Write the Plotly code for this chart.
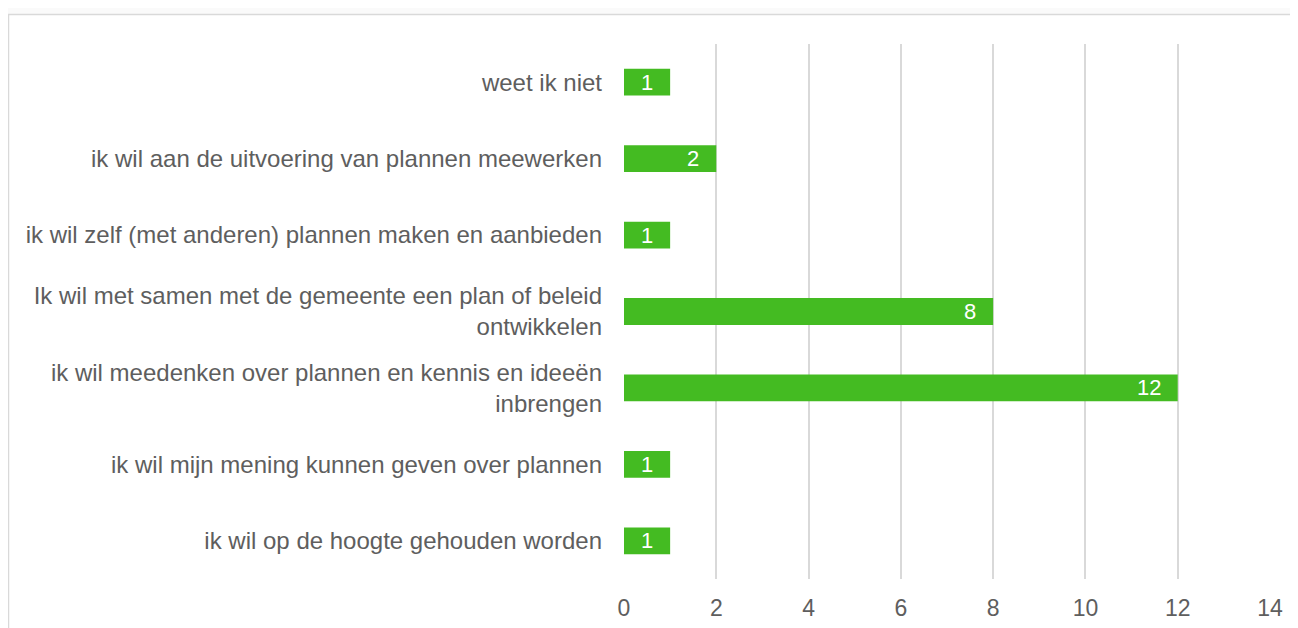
import plotly.graph_objects as go

categories = [
    "ik wil op de hoogte gehouden worden",
    "ik wil mijn mening kunnen geven over plannen",
    "ik wil meedenken over plannen en kennis en ideeën<br>inbrengen",
    "Ik wil met samen met de gemeente een plan of beleid<br>ontwikkelen",
    "ik wil zelf (met anderen) plannen maken en aanbieden",
    "ik wil aan de uitvoering van plannen meewerken",
    "weet ik niet",
]
values = [1, 1, 12, 8, 1, 2, 1]
x_ticks = [0, 2, 4, 6, 8, 10, 12, 14]

OFF = 8  # default body margin of the html page
W, H = 1298 - OFF, 628 - OFF
ml, mr, mt, mb = 624 - OFF, 28, 44 - OFF, 49
pw, ph = W - ml - mr, H - mt - mb

def px(x):
    return (x - OFF - ml) / pw

def py(y):
    return (H - mb - (y - OFF)) / ph

FONT = "Liberation Sans, Arial"
GRAY = "#5E5E5E"

fig = go.Figure(
    go.Bar(
        x=values,
        y=categories,
        orientation="h",
        marker=dict(color="#44BB22", line=dict(width=0)),
        width=0.35,
        hoverinfo="x+y",
    )
)

# value labels, inside end of each bar with Excel-like padding
label_annotations = [
    dict(
        x=v, y=c, xref="x", yref="y", text=str(v), showarrow=False,
        xanchor="right", yanchor="middle", xshift=-15,
        font=dict(color="white", size=22, family=FONT),
    )
    for c, v in zip(categories, values)
]

fig.update_layout(
    width=W,
    height=H,
    margin=dict(l=ml, r=mr, t=mt, b=mb),
    paper_bgcolor="#FAFAFA",
    plot_bgcolor="white",
    showlegend=False,
    font=dict(family=FONT, color=GRAY),
    shapes=[
        dict(
            type="rect", xref="paper", yref="paper",
            x0=px(8.5), x1=px(1330), y0=py(14.5), y1=py(680),
            fillcolor="white", line=dict(color="#D9D9D9", width=1.5), layer="below",
        )
    ],
    annotations=label_annotations,
)
fig.update_xaxes(
    range=[0, 14], tickvals=x_ticks, showgrid=True, gridcolor="#D9D9D9", gridwidth=1.5,
    zeroline=False, showline=False, tickfont=dict(size=23, color=GRAY),
    ticklabelstandoff=13, fixedrange=True, automargin=False,
)
fig.update_yaxes(
    categoryorder="array", categoryarray=categories, showgrid=False, showline=False,
    tickfont=dict(size=24, color=GRAY), ticklabelstandoff=21, ticks="", fixedrange=True,
    automargin=False,
)

fig.write_html("out.html")
